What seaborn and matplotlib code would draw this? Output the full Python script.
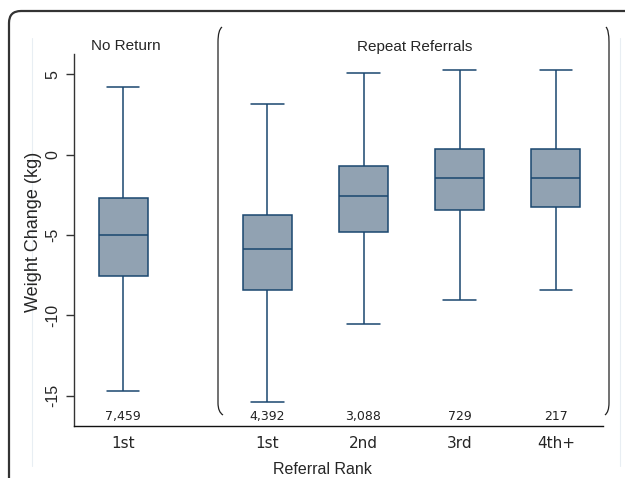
import numpy as np
import pandas as pd
import matplotlib
matplotlib.use("Agg")
import matplotlib.pyplot as plt
import seaborn as sns
from matplotlib.patches import PathPatch
from matplotlib.path import Path
from matplotlib.transforms import IdentityTransform

# summary values (kg)
groups = ["No Return 1st", "Repeat 1st", "Repeat 2nd", "Repeat 3rd", "Repeat 4th+"]
tick_labels = ["1st", "1st", "2nd", "3rd", "4th+"]
lower_whisker = [-14.7, -15.4, -10.55, -9.05, -8.4]
q1 = [-7.53, -8.44, -4.81, -3.46, -3.25]
median = [-5.02, -5.89, -2.55, -1.47, -1.47]
q3 = [-2.71, -3.73, -0.72, 0.35, 0.35]
upper_whisker = [4.21, 3.14, 5.10, 5.29, 5.29]
counts = ["7,459", "4,392", "3,088", "729", "217"]

# layout: gap between the two groups
positions = [0, 1.5, 2.5, 3.5, 4.5]

rows = []
for pos, lo, a, m, b, hi in zip(positions, lower_whisker, q1, median, q3, upper_whisker):
    for v in (lo, a, m, b, hi):
        rows.append({"pos": pos, "change": v})
df = pd.DataFrame(rows)

W, H = 625, 478
sns.set_style("ticks")
plt.rcParams["font.family"] = ["Liberation Sans", "DejaVu Sans"]

fig = plt.figure(figsize=(W / 100, H / 100), dpi=100)
ax = fig.add_axes([74 / W, 1 - 426 / H, (603 - 74) / W, (426 - 54) / H])

line_col = "#1a476f"
sns.boxplot(data=df, x="pos", y="change", native_scale=True, ax=ax,
            width=0.51, whis=(0, 100), color="#8ba2b7", linecolor=line_col,
            linewidth=1.1, capwidths=0.34)

ax.set_xlim(-0.51, 4.99)
ax.set_ylim(-16.88, 6.27)
ax.set_xticks(positions)
ax.set_xticklabels(tick_labels, fontfamily="DejaVu Sans", fontsize=11)
ax.set_yticks([5, 0, -5, -10, -15])
ax.set_yticklabels(["5", "0", "-5", "-10", "-15"], fontsize=11.5, rotation=90, va="center")
ax.tick_params(axis="x", length=0, pad=7.5)
ax.tick_params(axis="y", length=6, width=1, pad=4, color="#333333")
ax.set_xlabel("")
ax.set_ylabel("")
sns.despine(ax=ax)
ax.spines["left"].set_color("#333333")
ax.spines["bottom"].set_color("#111111")
ax.spines["left"].set_linewidth(1.0)
ax.spines["bottom"].set_linewidth(1.0)

for pos, n in zip(positions, counts):
    ax.text(pos, -16.3, n, ha="center", va="center", fontsize=9,
            fontfamily="DejaVu Sans", color="#222222")

fig.text(126 / W, 1 - 46.5 / H, "No Return", ha="center", va="center", fontsize=11)
fig.text(415 / W, 1 - 46.5 / H, "Repeat Referrals", ha="center", va="center", fontsize=11)
fig.text(322 / W, 1 - 469 / H, "Referral Rank", ha="center", va="center", fontsize=11.5)
fig.text(34 / W, 1 - 232 / H, "Weight Change (kg)", ha="center", va="center",
         fontsize=13, rotation=90)

# outer rounded frame (only top and left edges fall inside the crop)
fv = [(9, -10), (9, H - 23), (9, H - 11), (21, H - 11), (W + 10, H - 11)]
fc = [Path.MOVETO, Path.LINETO, Path.CURVE3, Path.CURVE3, Path.LINETO]
fig.patches.append(PathPatch(Path(fv, fc), transform=IdentityTransform(), fill=False,
                             ec="#333333", lw=1.6))

# faint plot-region edges
for xp in (32, 620):
    fig.add_artist(plt.Line2D([xp, xp], [H - 38, H - 466], transform=IdentityTransform(),
                              color="#e8eef3", lw=0.8))

# brackets around the repeat referrals group
def bracket(x_end, x_mid):
    verts = [(x_end, H - 27), (x_mid, H - 30), (x_mid, H - 42),
             (x_mid, H - 403), (x_mid, H - 412), (x_end + (1 if x_end > x_mid else -1) * 1, H - 415)]
    codes = [Path.MOVETO, Path.CURVE3, Path.CURVE3, Path.LINETO, Path.CURVE3, Path.CURVE3]
    return PathPatch(Path(verts, codes), transform=IdentityTransform(), fill=False,
                     ec="#222222", lw=0.9)

fig.patches.append(bracket(222, 218))
fig.patches.append(bracket(606, 609))

fig.savefig("out.png", dpi=100)
